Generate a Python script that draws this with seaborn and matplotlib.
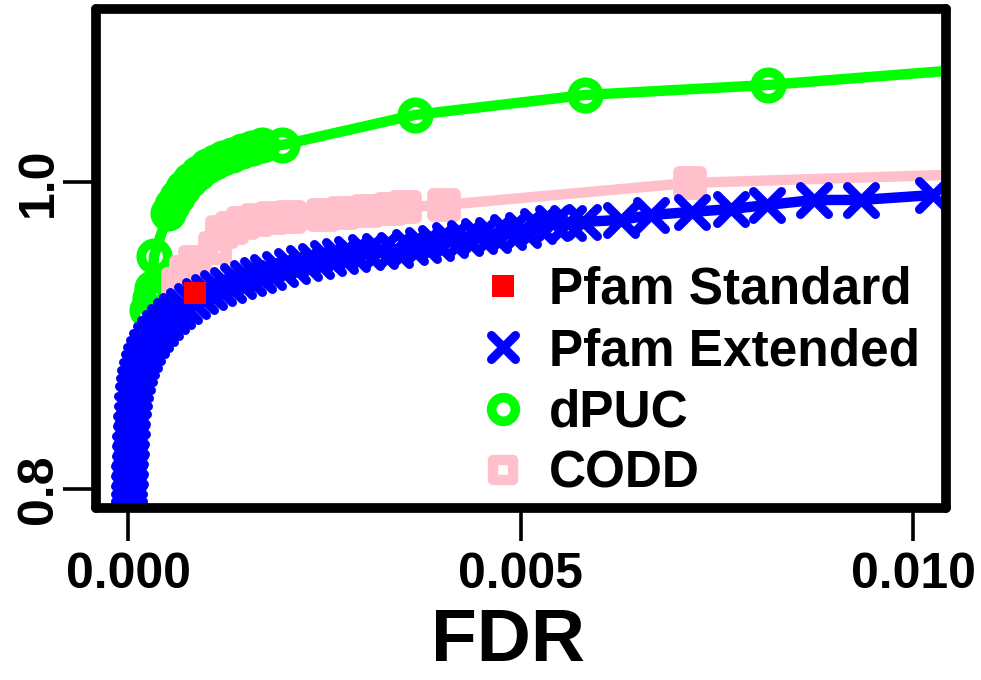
import matplotlib
matplotlib.use("Agg")
import matplotlib.pyplot as plt
import seaborn as sns
from matplotlib.lines import Line2D
from matplotlib.markers import MarkerStyle

# Pfam Extended (blue x)
ext_fdr = [0.0000127, 0.0000127, 0.0000127, 0.0000127, 0.0000127, 0.0000255, 0.0000255,
           0.0000255, 0.0000382, 0.0000382, 0.000051, 0.000051, 0.0000637, 0.0000764,
           0.0000892, 0.0001146, 0.0001401, 0.0001656, 0.0002038, 0.000242, 0.000293,
           0.0003439, 0.0004076, 0.0004713, 0.0005478, 0.0006242, 0.0007134, 0.0008153,
           0.0009172, 0.0010318, 0.0011465, 0.0012739, 0.0014013, 0.0015287, 0.0016561,
           0.0017834, 0.0019363, 0.0020892, 0.002242, 0.0023949, 0.0025478, 0.0027006,
           0.0028535, 0.0030318, 0.0032102, 0.0034013, 0.0035924, 0.003758, 0.0039236,
           0.0041019, 0.004293, 0.0044713, 0.0046497, 0.0048408, 0.0050318, 0.0052229,
           0.005414, 0.0056051, 0.0057962, 0.0062803, 0.0066624, 0.0071847, 0.0076815,
           0.0081401, 0.0087389, 0.0093376, 0.0102548]
ext_sens = [0.7668, 0.7831, 0.7928, 0.7993, 0.8059, 0.8124, 0.8189,
            0.8254, 0.8319, 0.8384, 0.845, 0.8515, 0.858, 0.8632,
            0.8684, 0.8736, 0.8788, 0.8834, 0.888, 0.8925, 0.8971,
            0.901, 0.9049, 0.9088, 0.9127, 0.916, 0.9192, 0.9225,
            0.9257, 0.9283, 0.931, 0.9329, 0.9355, 0.9375, 0.9394,
            0.9414, 0.9433, 0.9453, 0.9472, 0.9485, 0.9505, 0.9518,
            0.9531, 0.9544, 0.9551, 0.9557, 0.9577, 0.959, 0.9603,
            0.9622, 0.9635, 0.9648, 0.9655, 0.9674, 0.9687, 0.9713,
            0.9733, 0.9733, 0.974, 0.9753, 0.9785, 0.9805, 0.9824,
            0.985, 0.9883, 0.9883, 0.9915]

# dPUC (green circles)
dpuc_fdr = [0.000242, 0.00028, 0.000306, 0.000331, 0.00051, 0.000561, 0.000624, 0.000701,
            0.00079, 0.000892, 0.001006, 0.001108, 0.00121, 0.001325, 0.001452, 0.00158,
            0.001707, 0.001962, 0.003656, 0.005822, 0.008153, 0.011236]
dpuc_sens = [0.9166, 0.9244, 0.931, 0.9518, 0.9798, 0.985, 0.9902, 0.9961,
             1.0013, 1.0059, 1.0104, 1.013, 1.0156, 1.0176, 1.0202, 1.0222,
             1.0241, 1.0241, 1.0437, 1.0567, 1.0632, 1.0756]

# CODD (pink squares)
codd_fdr = [0.000637, 0.000739, 0.000854, 0.001108, 0.001197, 0.001325, 0.001465, 0.001643,
            0.001834, 0.002064, 0.002484, 0.002739, 0.003045, 0.003338, 0.003529, 0.004025,
            0.007159, 0.011236]
codd_sens = [0.9336, 0.9414, 0.9479, 0.957, 0.9674, 0.97, 0.9733, 0.9753,
             0.9766, 0.9772, 0.9785, 0.9798, 0.9811, 0.9824, 0.9837, 0.985,
             0.9994, 1.0059]

# Pfam Standard (single red square)
std_fdr = [0.000853]
std_sens = [0.9277]

x_ticks = [0.0, 0.005, 0.010]
x_labels = ["0.000", "0.005", "0.010"]
y_ticks = [0.8, 1.0]
y_labels = ["0.8", "1.0"]

GREEN = "#00ff00"
BLUE = "#0000ff"
PINK = "#ffc0cb"
RED = "#ff0000"

sns.set_theme(style="white")
plt.rcParams["font.family"] = ["Liberation Sans", "DejaVu Sans"]
plt.rcParams["font.weight"] = "bold"
plt.rcParams["text.color"] = "black"
plt.rcParams["axes.labelcolor"] = "black"
plt.rcParams["xtick.color"] = "black"
plt.rcParams["ytick.color"] = "black"

fig = plt.figure(figsize=(9.81, 6.8), dpi=100)
ax = fig.add_axes([0.09786, 0.25294, 0.8660, 0.73382])

circle = MarkerStyle("o", fillstyle="none")
square = MarkerStyle("s", fillstyle="none", joinstyle="round")
cross = MarkerStyle("x", capstyle="round")

sns.lineplot(x=dpuc_fdr, y=dpuc_sens, ax=ax, sort=False, estimator=None, errorbar=None,
             color=GREEN, linewidth=7.5, marker=circle, markersize=19,
             markeredgewidth=7, markeredgecolor=GREEN, markerfacecolor="none",
             solid_capstyle="round", solid_joinstyle="round", legend=False)
sns.lineplot(x=codd_fdr, y=codd_sens, ax=ax, sort=False, estimator=None, errorbar=None,
             color=PINK, linewidth=7.5, marker=square, markersize=16,
             markeredgewidth=8.5, markeredgecolor=PINK, markerfacecolor="none",
             solid_capstyle="round", solid_joinstyle="round", legend=False)
sns.lineplot(x=ext_fdr, y=ext_sens, ax=ax, sort=False, estimator=None, errorbar=None,
             color=BLUE, linewidth=7.5, marker=cross, markersize=20,
             markeredgewidth=6.5, markeredgecolor=BLUE,
             solid_capstyle="round", solid_joinstyle="round", legend=False)
sns.scatterplot(x=std_fdr, y=std_sens, ax=ax, marker="s", s=272, color=RED,
                linewidth=0, legend=False, zorder=5)

ax.set_xlim(-0.000408, 0.010414)
ax.set_ylim(0.7876, 1.1127)
ax.set_xticks(x_ticks)
ax.set_xticklabels(x_labels)
ax.set_yticks(y_ticks)
ax.set_yticklabels(y_labels, rotation=90, va="center")

ax.tick_params(axis="both", which="major", bottom=True, left=True, top=False, right=False,
               direction="out", length=24, width=2.6, color="black",
               labelsize=36, labelcolor="black")
ax.tick_params(axis="x", pad=8)
ax.tick_params(axis="y", pad=0.5)
for lab in ax.get_xticklabels() + ax.get_yticklabels():
    lab.set_fontweight("bold")

for sp in ax.spines.values():
    sp.set_visible(True)
    sp.set_color("black")
    sp.set_linewidth(7)
    sp.set_capstyle("round")

ax.set_xlabel("FDR", fontsize=54, fontweight="bold", color="black")
ax.xaxis.set_label_coords(0.485, -0.198)
ax.set_ylabel("")

handles = [
    Line2D([], [], linestyle="None", marker="s", markersize=16.5, markeredgewidth=0,
           color=RED),
    Line2D([], [], linestyle="None", marker=cross, markersize=17, markeredgewidth=6.5,
           color=BLUE),
    Line2D([], [], linestyle="None", marker=circle, markersize=17, markeredgewidth=7,
           color=GREEN, markerfacecolor="none"),
    Line2D([], [], linestyle="None", marker=square, markersize=15, markeredgewidth=7.5,
           color=PINK, markerfacecolor="none"),
]
labels = ["Pfam Standard", "Pfam Extended", "dPUC", "CODD"]
ax.legend(handles, labels, loc="upper left", bbox_to_anchor=(477 / 981, 1 - 266 / 680),
          bbox_transform=fig.transFigure, frameon=False, borderpad=0, borderaxespad=0,
          handlelength=1.0, handletextpad=0.4, labelspacing=0.24, labelcolor="black",
          prop={"family": "Liberation Sans", "weight": "bold", "size": 37})

fig.savefig("out.png", dpi=100)
